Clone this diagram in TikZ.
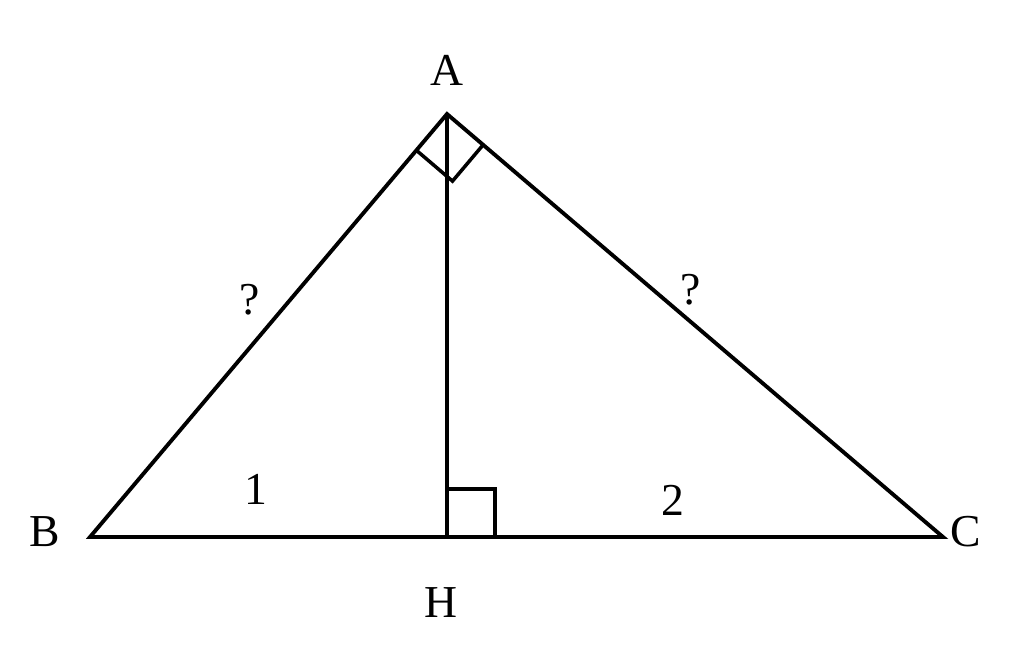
\documentclass[tikz,border=0pt]{standalone}
\usepackage{fontspec}
\setmainfont{Liberation Serif}
\usetikzlibrary{calc}

\begin{document}
\begin{tikzpicture}[x=0.02cm, y=-0.02cm, line width=2.2pt,
    lbl/.style={font=\fontsize{26}{30}\selectfont, inner sep=0pt}]
    \useasboundingbox (0,0) rectangle (1024,650);

    % Vertices
    \coordinate (A) at (447,114);
    \coordinate (B) at (90,537);
    \coordinate (C) at (943,537);
    \coordinate (H) at (447,537);

    % Triangle and altitude
    \draw (A) -- (B) -- (C) -- cycle;
    \draw (A) -- (H);

    % Right angle at A
    \coordinate (ab) at ($(A)!0.95cm!(B)$);
    \coordinate (ac) at ($(A)!0.95cm!(C)$);
    \draw[line width=2pt] (ab) -- ($(ab)+(ac)-(A)$) -- (ac);

    % Right angle at H
    \coordinate (ha) at ($(H)!0.96cm!(A)$);
    \coordinate (hc) at ($(H)!0.96cm!(C)$);
    \draw[line width=2pt] (ha) -- ($(ha)+(hc)-(H)$) -- (hc);

    % Labels
    \node[lbl] (lA) at (447,70) {A};
    \node[lbl] (lB) at (45,532) {B};
    \node[lbl] (lC) at (966,532) {C};
    \node[lbl] (lH) at (441,603) {H};
    \node[lbl] (qAB) at (250,300) {?};
    \node[lbl] (qAC) at (691,290) {?};
    \node[lbl] (sBH) at (256,489) {1};
    \node[lbl] (sHC) at (673,500) {2};
\end{tikzpicture}
\end{document}
